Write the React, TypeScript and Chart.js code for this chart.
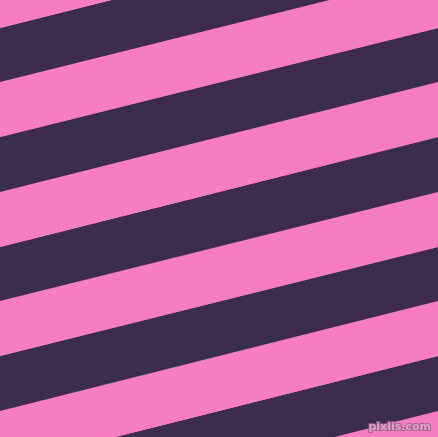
import React, { useEffect, useRef } from 'react'
import Chart from 'chart.js/auto'

// stripe boundary lines, read at the left (x = 0) and right (x = 438) edges
const leftEdge = [-27, 28, 82, 137, 192, 247, 301, 356, 411, 466, 521, 576]
const rightEdge = [-137, -82, -27, 28, 82, 137, 192, 247, 301, 356, 411, 466]
// colour of the band that sits above each boundary (index 0 has no band)
const bandColors = ['', '#F67EBF', '#3C2E4B', '#F67EBF', '#3C2E4B', '#F67EBF', '#3C2E4B', '#F67EBF', '#3C2E4B', '#F67EBF', '#3C2E4B', '#F67EBF']
const xRange = [0, 438]
const yRange = [0, 437]
const watermark = 'pixlis.com'

const watermarkPlugin = {
  id: 'watermark',
  afterDraw(chart: Chart) {
    const { ctx } = chart
    ctx.save()
    ctx.font = 'bold 11px "DejaVu Sans", sans-serif'
    ctx.textAlign = 'right'
    ctx.textBaseline = 'bottom'
    ctx.lineWidth = 2
    ctx.strokeStyle = 'rgba(150,90,130,0.8)'
    ctx.strokeText(watermark, 431, 433)
    ctx.fillStyle = 'rgba(225,170,210,0.95)'
    ctx.fillText(watermark, 431, 433)
    ctx.restore()
  }
}

const StripeChart: React.FC = () => {
  const chartRef = useRef<HTMLCanvasElement | null>(null)

  useEffect(() => {
    if (!chartRef.current) return
    const chart = new Chart(chartRef.current, {
      type: 'line',
      data: {
        datasets: leftEdge.map((y0, i) => ({
          data: [
            { x: xRange[0], y: y0 },
            { x: xRange[1], y: rightEdge[i] }
          ],
          borderColor: 'transparent',
          borderWidth: 0,
          pointRadius: 0,
          backgroundColor: bandColors[i] || 'transparent',
          fill: i === 0 ? false : '-1'
        }))
      },
      options: {
        animation: false,
        responsive: false,
        devicePixelRatio: 1,
        layout: { padding: 0 },
        plugins: {
          legend: { display: false },
          tooltip: { enabled: false }
        },
        scales: {
          x: { type: 'linear', min: xRange[0], max: xRange[1], display: false },
          y: { type: 'linear', min: yRange[0], max: yRange[1], reverse: true, display: false }
        }
      },
      plugins: [watermarkPlugin]
    })
    return () => chart.destroy()
  }, [])

  return <canvas ref={chartRef} width={438} height={437} />
}

export default function App() {
  return (
    <div style={{ position: 'fixed', left: 0, top: 0, width: 438, height: 437, background: '#F67EBF' }}>
      <StripeChart />
    </div>
  )
}
